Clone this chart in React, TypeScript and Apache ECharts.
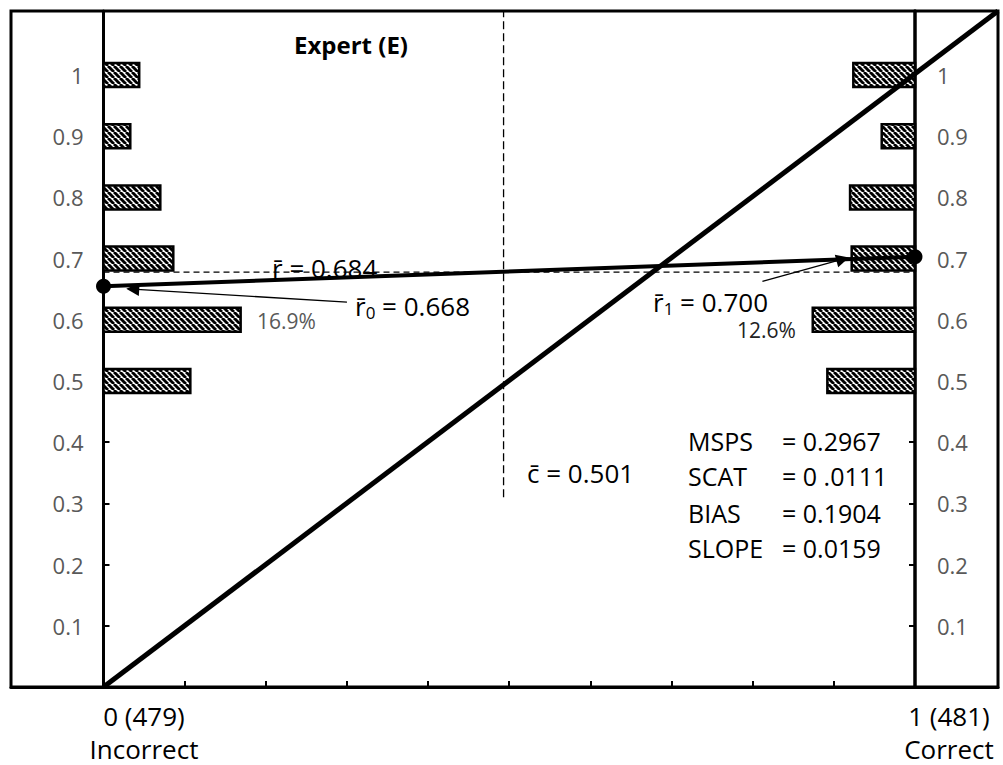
import React, { useEffect, useRef } from 'react';
import * as echarts from 'echarts';

// ---- data ----
const BIN_Y = [0.5, 0.6, 0.7, 0.8, 0.9, 1.0];
const INCORRECT_SHARE = [0.107, 0.169, 0.086, 0.07, 0.033, 0.044];
const CORRECT_SHARE = [0.108, 0.126, 0.078, 0.08, 0.041, 0.076];
const Y_TICKS = [0.1, 0.2, 0.3, 0.4, 0.5, 0.6, 0.7, 0.8, 0.9, 1];
const X_TICKS = [0.1, 0.2, 0.3, 0.4, 0.5, 0.6, 0.7, 0.8, 0.9];
const R0_Y = 0.655;
const R1_Y = 0.703;
const RBAR_Y = 0.678;
const CBAR_X = 0.493;
const CBAR_Y_FROM = 0.31;
const ARROW_R0 = [[0.3, 0.629], [0.036, 0.65]];
const ARROW_R1 = [[0.812, 0.663], [0.911, 0.699]];
const X_MIN = -0.114;
const X_MAX = 1.1023;
const Y_MAX = 1.1046;
const STAT_NAMES = ['MSPS', 'SCAT', 'BIAS', 'SLOPE'];
const STAT_VALUES = ['= 0.2967', '= 0 .0111', '= 0.1904', '= 0.0159'];
const X_END_LABELS = ['0 (479)', '1 (481)'];
const X_END_NAMES = ['Incorrect', 'Correct'];

const FONT = '"Open Sans", "Noto Sans", sans-serif';
const BAR_PX = 24;

function makeHatch(): HTMLCanvasElement {
  const s = 6;
  const c = document.createElement('canvas');
  c.width = s;
  c.height = s;
  const g = c.getContext('2d')!;
  g.fillStyle = '#fff';
  g.fillRect(0, 0, s, s);
  g.strokeStyle = '#000';
  g.lineWidth = 2.9;
  for (const k of [-1, 0, 1]) {
    g.beginPath();
    g.moveTo(k * s, 0);
    g.lineTo(k * s + s, s);
    g.stroke();
  }
  return c;
}

export default function App() {
  const ref = useRef<HTMLDivElement>(null);
  useEffect(() => {
    if (!ref.current) return;
    const chart = echarts.init(ref.current, undefined, { renderer: 'svg' });
    const hatchCanvas = makeHatch();
    const hatch: any = {
      image: hatchCanvas.toDataURL(),
      repeat: 'repeat',
      imageWidth: 6,
      imageHeight: 6,
    };

    const barRender = (side: 'left' | 'right') => (_p: any, api: any) => {
      const share = api.value(0);
      const y = api.value(1);
      const x0 = side === 'left' ? 0 : 1 - share;
      const x1 = side === 'left' ? share : 1;
      const a = api.coord([x0, y]);
      const b = api.coord([x1, y]);
      return {
        type: 'rect',
        shape: { x: a[0], y: a[1] - BAR_PX / 2, width: b[0] - a[0], height: BAR_PX },
        style: { fill: hatch, stroke: '#000', lineWidth: 2.5 },
      };
    };

    const txt = (text: string, x: number, y: number, size: number, extra: any = {}) => ({
      type: 'text',
      x,
      y,
      z: 10,
      style: {
        text,
        fontSize: size,
        fontFamily: FONT,
        fill: '#000',
        align: 'left',
        textAlign: 'left',
        verticalAlign: 'middle',
        textVerticalAlign: 'middle',
        ...extra,
      },
    });

    const subText = (main: string, sub: string, rest: string, x: number, y: number) => ({
      type: 'text',
      x,
      y,
      z: 10,
      style: {
        text: `{a|${main}}{s|${sub}}{a|${rest}}`,
        fontFamily: FONT,
        fill: '#000',
        align: 'left',
        verticalAlign: 'middle',
        rich: {
          a: { fontSize: 26, fontFamily: FONT, fill: '#000' },
          s: { fontSize: 17, fontFamily: FONT, fill: '#000', padding: [12, 0, 0, 0] },
        },
      },
    });

    const statRowsY = [441, 476, 513, 548];
    const graphics: any[] = [
      txt('Expert (E)', 351, 44, 24, { fontWeight: 'bold', align: 'center', textAlign: 'center' }),
      txt('r\u0304 = 0.684', 272, 268, 26),
      subText('r\u0304', '0', ' = 0.668', 355, 306),
      txt('16.9%', 257, 321, 21, { fill: '#595959' }),
      subText('r\u0304', '1', ' = 0.700', 653, 302),
      txt('12.6%', 737, 330, 21, { fill: '#222' }),
      txt('c\u0304 = 0.501', 527, 473, 26),
      ...STAT_NAMES.map((n, i) => txt(n, 688, statRowsY[i], 25)),
      ...STAT_VALUES.map((v, i) => txt(v, 782, statRowsY[i], 25)),
      txt(`${X_END_LABELS[0]}\n${X_END_NAMES[0]}`, 144, 732, 26, {
        align: 'center',
        textAlign: 'center',
        lineHeight: 33,
      }),
      txt(`${X_END_LABELS[1]}\n${X_END_NAMES[1]}`, 949, 732, 26, {
        align: 'center',
        textAlign: 'center',
        lineHeight: 33,
      }),
    ];

    const yAxisCommon = {
      type: 'value',
      min: 0,
      max: Y_MAX,
      splitLine: { show: false },
      axisTick: {
        show: true,
        inside: true,
        length: 6,
        customValues: Y_TICKS,
        lineStyle: { color: '#000', width: 2 },
      },
      axisLabel: {
        show: true,
        customValues: Y_TICKS,
        color: '#595959',
        fontSize: 22,
        fontFamily: FONT,
      },
    };

    chart.setOption({
      animation: false,
      backgroundColor: '#fff',
      grid: {
        left: 11,
        right: 5,
        top: 11,
        bottom: 78,
        show: true,
        borderColor: '#000',
        borderWidth: 3,
        outerBoundsMode: 'none',
      },
      xAxis: {
        type: 'value',
        min: X_MIN,
        max: X_MAX,
        splitLine: { show: false },
        axisLine: { show: true, onZero: false, lineStyle: { color: '#000', width: 3 } },
        axisTick: {
          show: true,
          inside: true,
          length: 6,
          customValues: X_TICKS,
          lineStyle: { color: '#000', width: 2 },
        },
        axisLabel: { show: false },
      },
      yAxis: [
        {
          ...yAxisCommon,
          position: 'left',
          offset: -92.5,
          axisLine: { show: true, onZero: false, lineStyle: { color: '#000', width: 3 } },
          axisLabel: { ...yAxisCommon.axisLabel, margin: 20 },
        },
        {
          ...yAxisCommon,
          position: 'right',
          offset: -83,
          axisLine: { show: true, onZero: false, lineStyle: { color: '#000', width: 3.5 } },
          axisLabel: { ...yAxisCommon.axisLabel, margin: 22 },
        },
      ],
      series: [
        {
          type: 'custom',
          name: 'Incorrect',
          renderItem: barRender('left'),
          encode: { x: 0, y: 1 },
          data: INCORRECT_SHARE.map((s, i) => [s, BIN_Y[i]]),
          z: 2,
        },
        {
          type: 'custom',
          name: 'Correct',
          renderItem: barRender('right'),
          encode: { x: 0, y: 1 },
          data: CORRECT_SHARE.map((s, i) => [s, BIN_Y[i]]),
          z: 2,
        },
        {
          type: 'line',
          name: 'r-bar',
          data: [[0, RBAR_Y], [1, RBAR_Y]],
          symbol: 'none',
          lineStyle: { color: '#000', width: 1.3, type: [6, 4] },
          z: 3,
        },
        {
          type: 'line',
          name: 'c-bar',
          data: [[CBAR_X, CBAR_Y_FROM], [CBAR_X, Y_MAX]],
          symbol: 'none',
          lineStyle: { color: '#000', width: 1.3, type: [8, 4] },
          z: 3,
        },
        {
          type: 'line',
          name: 'diagonal',
          data: [[0, 0], [X_MAX, Y_MAX]],
          symbol: 'none',
          clip: false,
          lineStyle: { color: '#000', width: 5 },
          z: 4,
        },
        {
          type: 'line',
          name: 'r0-r1',
          data: [[0, R0_Y], [1, R1_Y]],
          symbol: 'circle',
          symbolSize: 15,
          showSymbol: true,
          clip: false,
          itemStyle: { color: '#000' },
          lineStyle: { color: '#000', width: 4 },
          z: 5,
        },
        {
          type: 'lines',
          coordinateSystem: 'cartesian2d',
          data: [{ coords: ARROW_R0 }, { coords: ARROW_R1 }],
          symbol: ['none', 'triangle'],
          symbolSize: 13,
          lineStyle: { color: '#000', width: 1.3, opacity: 1, curveness: 0 },
          z: 5,
        },
      ],
      graphic: graphics,
    });
    return () => chart.dispose();
  }, []);
  return (
    <div
      ref={ref}
      style={{ position: 'absolute', left: 0, top: 0, width: 1003, height: 765, background: '#fff' }}
    />
  );
}
